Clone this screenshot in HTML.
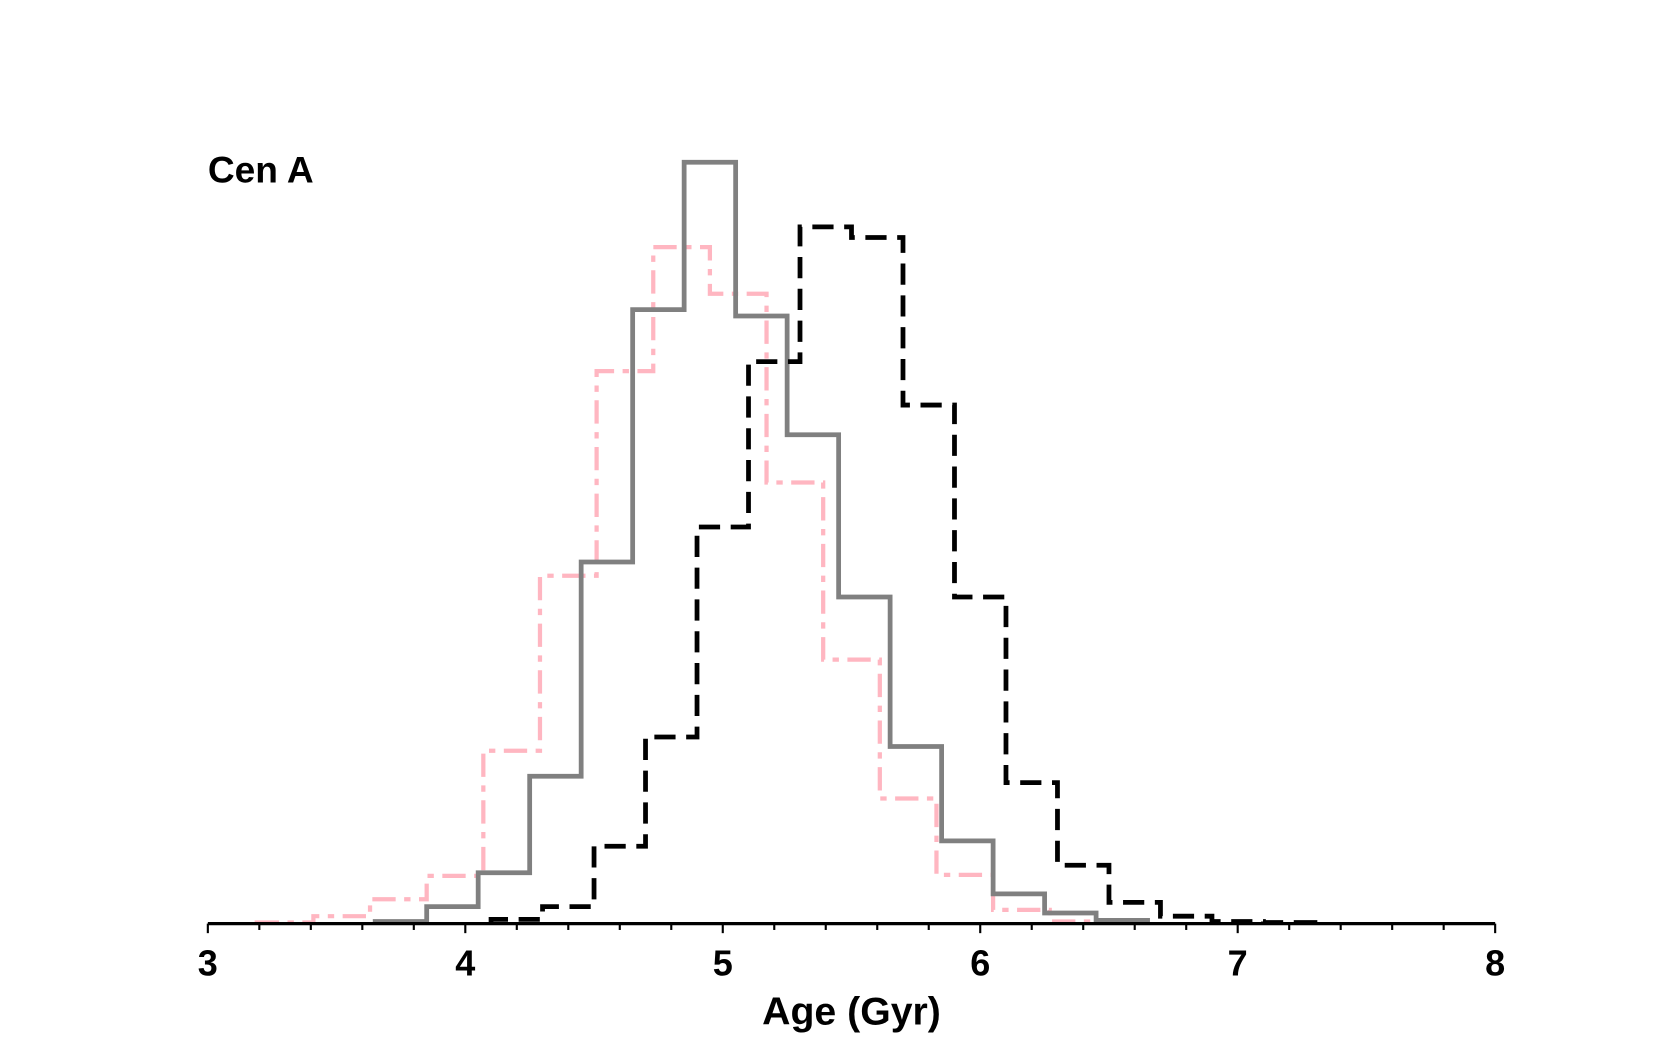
<!DOCTYPE html>
<html><head><meta charset="utf-8"><style>
html,body{margin:0;padding:0;background:#fff;}
svg{display:block;font-family:"Liberation Sans",Arial,sans-serif;}
</style></head><body>
<svg id="chart" width="1661" height="1038" viewBox="0 0 1661 1038" xmlns="http://www.w3.org/2000/svg">
<g transform="scale(1.0604)">
<g id="series"></g>
<g id="axis"></g>
<text x="196" y="172" font-size="35" font-weight="bold">Cen A</text>
<text x="803" y="966" font-size="37" font-weight="bold" text-anchor="middle">Age (Gyr)</text>
</g>
</svg>
<script>
const xTicks=[3,4,5,6,7,8];
const grayStart=3.65, grayWidth=0.2;
const grayCounts=[2,16,48,139,341,579,718,573,461,308,167,78,28,10,3];
const pinkStart=3.19, pinkWidth=0.22;
const pinkCounts=[1,7,23,45,163,328,521,638,594,416,249,118,46,13,2];
const blackStart=4.1, blackWidth=0.2;
const blackCounts=[4,16,73,176,374,530,657,647,489,308,133,55,20,7,2,1];

const NS="http://www.w3.org/2000/svg";
const X0=196,X1=1410,Y0=871;
function xs(v){return X0+(v-3)/(8-3)*(X1-X0);}
function ys(c){return Y0-c;}
const axis=document.getElementById('axis');
const series=document.getElementById('series');
function mk(tag,attrs,parent){const e=document.createElementNS(NS,tag);for(const k in attrs)e.setAttribute(k,attrs[k]);parent.appendChild(e);return e;}

function step(start,w,counts,style,name){
  let d="M"+xs(start)+","+Y0;
  counts.forEach((c,i)=>{const a=xs(start+i*w),b=xs(start+(i+1)*w);d+=" L"+a+","+ys(c)+" L"+b+","+ys(c);});
  d+=" L"+xs(start+counts.length*w)+","+Y0;
  const p=mk('path',Object.assign({d:d,fill:'none'},style),series);
  
  
}
step(pinkStart,pinkWidth,pinkCounts,{stroke:'#ffb6c1','stroke-width':4,'stroke-dasharray':'22,8,6,8'},'pink-histogram');
step(grayStart,grayWidth,grayCounts,{stroke:'#808080','stroke-width':4.5},'gray-histogram');
step(blackStart,blackWidth,blackCounts,{stroke:'#000','stroke-width':4.5,'stroke-dasharray':'20,10'},'black-dashed-histogram');

const al=mk('line',{x1:X0,x2:X1,y1:Y0,y2:Y0,stroke:'#000','stroke-width':3},axis);


for(let k=0;k<=25;k++){
  const v=3+k*0.2;const major=k%5===0;
  const t=mk('line',{x1:xs(v),x2:xs(v),y1:Y0,y2:Y0+(major?9:6),stroke:'#000','stroke-width':2},axis);
  
  
}
xTicks.forEach(v=>{
  const t=mk('text',{x:xs(v),y:920,'font-size':34,'font-weight':'bold','text-anchor':'middle'},axis);
  t.textContent=v;
  
  
});
</script>
</body></html>
